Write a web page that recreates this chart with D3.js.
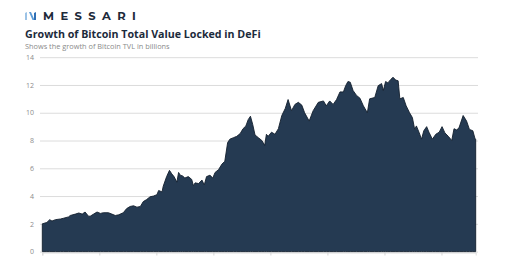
<!DOCTYPE html>
<html><head><meta charset="utf-8">
<script src="https://cdn.jsdelivr.net/npm/d3@7"></script>
<style>html,body{margin:0;padding:0;background:#fff;}svg{display:block;}</style>
</head><body><svg id="c" width="512" height="258"></svg>
<script>
// day index (x) and Bitcoin TVL in billions USD
const days = [0,8,13,17,23,32,37,46,49,58,64,70,75,81,84,90,96,102,107,116,122,128,134,142,148,154,160,166,172,177,183,189,195,201,204,210,212,218,223,227,231,236,239,242,246,250,256,262,265,268,274,280,284,288,294,299,303,309,315,320,325,329,335,341,347,352,357,361,365,369,373,379,385,390,393,396,402,408,414,420,426,431,437,443,449,455,460,468,475,484,493,498,504,510,516,522,528,532,536,540,545,551,557,563,570,574,583,589,595,598,602,606,611,615,620,624,627,633,638,644,649,653,656,661,665,669,674,678,684,690,696,701,706,712,718,722,727,731,738,744,749,755,759,760];
const tvl = [2.0,2.1,2.3,2.2,2.3,2.35,2.4,2.5,2.6,2.7,2.78,2.7,2.85,2.55,2.55,2.7,2.85,2.75,2.8,2.8,2.7,2.6,2.65,2.8,3.1,3.25,3.3,3.2,3.25,3.6,3.75,3.95,4.0,4.1,4.4,4.3,4.7,5.4,5.85,5.6,5.4,5.0,5.7,5.5,5.45,5.3,5.4,5.2,4.75,4.95,4.9,5.15,4.8,5.4,5.5,5.3,5.7,5.9,6.3,6.5,7.85,8.1,8.2,8.3,8.5,8.85,9.05,9.5,9.75,9.15,8.4,8.2,8.0,7.65,8.45,8.3,8.6,8.45,8.85,9.8,10.3,10.95,10.15,10.6,10.75,10.55,10.0,9.4,10.15,10.75,10.85,10.5,10.85,10.6,10.95,11.5,11.5,11.95,12.25,12.2,11.6,11.25,11.05,10.5,10.0,11.0,11.1,11.95,12.1,11.6,12.25,12.15,12.4,12.55,12.35,12.3,11.0,11.1,10.5,10.0,9.65,8.8,9.05,8.55,8.1,8.7,9.0,8.6,8.1,8.45,8.6,9.0,8.55,8.3,8.0,8.85,8.75,8.95,9.8,9.4,8.8,8.7,8.1,8.1];
const yTicks = [0,2,4,6,8,10,12,14];
const xTicks = [0,100,200,300,400,500,600,700];
const title = "Growth of Bitcoin Total Value Locked in DeFi";
const subtitle = "Shows the growth of Bitcoin TVL in billions";
const brand = "MESSARI";

const svg = d3.select("#c");
const x = d3.scaleLinear().domain([0,760]).range([42.3,475.7]);
const y = d3.scaleLinear().domain([0,14]).range([251.6,57.2]);

// logo
const logo = svg.append("g").attr("transform","translate(25,11)");
const shades = ["#9cc3e6","#5c9bd6","#2f6fb5"];
[[0,0],[4.5,0],[9,0]].forEach((p,i)=>{
  logo.append("path")
    .attr("d", i===1 ? "M4,1 L6,1 L9.5,9 L7.5,9 Z" : `M${p[0]},2 L${p[0]+2},1 L${p[0]+2},9 L${p[0]},9 Z`)
    .attr("fill", shades[i]);
});
svg.append("text").attr("x",43).attr("y",20.3).text(brand)
  .attr("font-family","Montserrat, 'Open Sans', Arial, sans-serif").attr("font-weight",700)
  .attr("font-size",11.5).attr("letter-spacing",6.4).attr("fill","#1d2a3a");

const t = svg.append("text").attr("x",25).attr("y",37.5).text(title)
  .attr("font-family","'Open Sans', sans-serif").attr("font-weight",700)
  .attr("font-size",12).attr("fill","#1c2b3c");
const tw = t.node().getComputedTextLength();
t.attr("font-size", 12*236/tw);
const s = svg.append("text").attr("x",25).attr("y",49.3).text(subtitle)
  .attr("font-family","'Open Sans', sans-serif")
  .attr("font-size",7.5).attr("fill","#8a8a8a");
const sw = s.node().getComputedTextLength();
s.attr("font-size", 7.5*145/sw);

// grid + y labels
const yAxis = d3.axisLeft(y).tickValues(yTicks).tickSize(-438).tickPadding(6);
const gy = svg.append("g").attr("transform","translate(40,0)").call(yAxis);
gy.select(".domain").remove();
gy.selectAll(".tick line").attr("stroke","#dcdcdc").attr("stroke-width",1);
gy.selectAll(".tick text").attr("fill","#8c8c8c").attr("font-size",7)
  .attr("font-family","'Open Sans', sans-serif");

// x axis ticks (no labels)
const gx = svg.append("g").attr("transform","translate(0,252.5)")
  .call(d3.axisBottom(x).tickValues(xTicks).tickSize(3).tickFormat(""));
gx.select(".domain").attr("stroke","#dcdcdc");
gx.selectAll(".tick line").attr("stroke","#d6d6d6");

// area
const data = days.map((d,i)=>({d, v:tvl[i]}));
const area = d3.area().x(p=>x(p.d)).y0(y(0)).y1(p=>y(p.v)).curve(d3.curveLinear);
svg.append("path").datum(data).attr("d",area)
  .attr("fill","#253a52").attr("stroke","#131f2e").attr("stroke-width",0.9)
  .attr("stroke-linejoin","round");
</script></body></html>
